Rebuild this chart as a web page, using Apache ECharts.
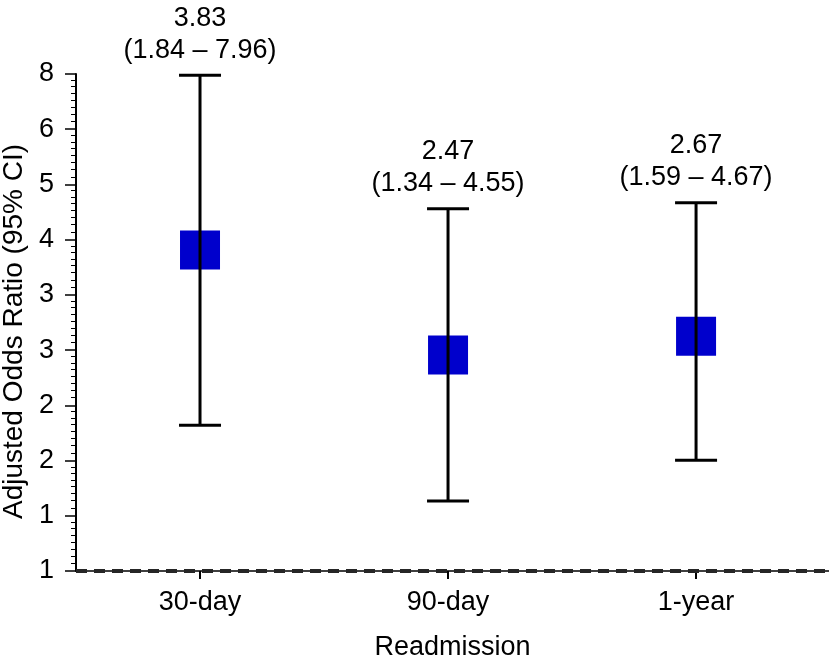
<!DOCTYPE html>
<html><head><meta charset="utf-8">
<script src="https://cdn.jsdelivr.net/npm/echarts@6/dist/echarts.min.js"></script>
<style>html,body{margin:0;padding:0;background:#fff}#c{width:829px;height:661px}</style>
</head><body><div id="c"></div>
<script>
const categories = ['30-day', '90-day', '1-year'];
const categoryPos = [1, 2, 3];
const oddsRatio = [3.83, 2.47, 2.67];
const ciLow = [1.84, 1.34, 1.59];
const ciHigh = [7.96, 4.55, 4.67];
const yMin = 1, yMax = 8;
const refValue = 1;

const FONT = 'Liberation Sans';
const FS = 27;
const chart = echarts.init(document.getElementById('c'), null, {renderer: 'canvas'});

const pointData = categoryPos.map((x, i) => [x, oddsRatio[i]]);
const ciData = categoryPos.map((x, i) => [x, ciLow[i], ciHigh[i], oddsRatio[i]]);

chart.setOption({
  backgroundColor: '#fff',
  animation: false,
  grid: {left: 76, right: 0, top: 74, bottom: 90, containLabel: false, outerBoundsMode: 'none'},
  xAxis: {
    type: 'value', min: 0.5, max: 3.536,
    name: 'Readmission', nameLocation: 'middle', nameGap: 63,
    nameTextStyle: {fontFamily: FONT, fontSize: FS, color: '#000'},
    axisLine: {show: true, lineStyle: {color: '#000', width: 1.5}},
    axisTick: {show: true, customValues: categoryPos, length: 8, lineStyle: {color: '#000', width: 2}},
    axisLabel: {show: true, customValues: categoryPos, margin: 18,
      fontFamily: FONT, fontSize: FS, color: '#000',
      formatter: v => categories[Math.round(v) - 1] || ''},
    splitLine: {show: false}
  },
  yAxis: {
    type: 'log', logBase: Math.cbrt(2), min: yMin, max: yMax,
    name: 'Adjusted Odds Ratio (95% CI)', nameLocation: 'middle', nameGap: 48,
    nameTextStyle: {fontFamily: FONT, fontSize: 28, color: '#000', padding: [0, 18, 0, 0]},
    axisLine: {show: true, lineStyle: {color: '#000', width: 2}},
    axisTick: {show: true, length: 11, lineStyle: {color: '#000', width: 1.5}},
    minorTick: {show: true, splitNumber: 8, length: 5, lineStyle: {color: '#000', width: 1}},
    axisLabel: {margin: 22, fontFamily: FONT, fontSize: FS, color: '#000',
      formatter: v => String(Math.round(v))},
    splitLine: {show: false}
  },
  series: [
    {
      type: 'scatter', z: 2,
      data: pointData,
      symbol: 'rect', symbolSize: [40, 39],
      itemStyle: {color: '#0000CC', opacity: 1},
      markLine: {
        silent: true, symbol: 'none', label: {show: false},
        lineStyle: {type: [11, 7], width: 4, color: '#262626'},
        data: [{yAxis: refValue}]
      }
    },
    {
      type: 'custom', z: 3,
      data: ciData,
      encode: {x: 0, y: [1, 2]},
      renderItem: function (params, api) {
        const x = api.value(0), lo = api.value(1), hi = api.value(2), or = api.value(3);
        const pLo = api.coord([x, lo]);
        const pHi = api.coord([x, hi]);
        const hw = 21;
        const ls = {stroke: '#000', lineWidth: 3};
        return {
          type: 'group',
          children: [
            {type: 'line', shape: {x1: pLo[0], y1: pLo[1], x2: pHi[0], y2: pHi[1]}, style: ls},
            {type: 'line', shape: {x1: pHi[0] - hw, y1: pHi[1], x2: pHi[0] + hw, y2: pHi[1]}, style: ls},
            {type: 'line', shape: {x1: pLo[0] - hw, y1: pLo[1], x2: pLo[0] + hw, y2: pLo[1]}, style: ls},
            {type: 'text', x: pHi[0], y: pHi[1] - 57,
              style: {text: or.toFixed(2), fontFamily: FONT, fontSize: FS, fill: '#000', align: 'center', verticalAlign: 'middle'}},
            {type: 'text', x: pHi[0], y: pHi[1] - 25,
              style: {text: '(' + lo.toFixed(2) + ' \u2013 ' + hi.toFixed(2) + ')', fontFamily: FONT, fontSize: FS, fill: '#000', align: 'center', verticalAlign: 'middle'}}
          ]
        };
      }
    }
  ]
});
</script>
</body></html>
